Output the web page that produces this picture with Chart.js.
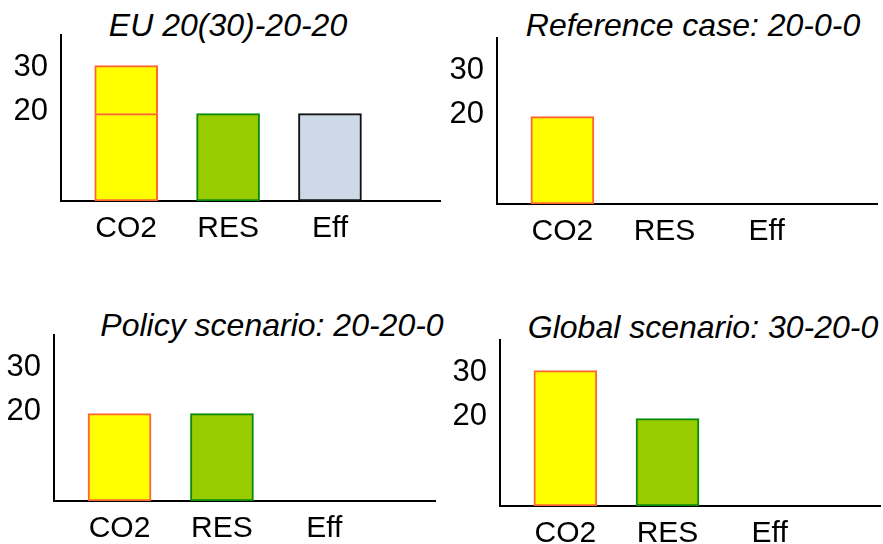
<!DOCTYPE html>
<html>
<head>
<meta charset="utf-8">
<script src="https://cdn.jsdelivr.net/npm/chart.js@4/dist/chart.umd.min.js"></script>
<style>
    html, body { margin: 0; padding: 0; background: #fff; width: 883px; height: 544px; overflow: hidden; position: relative; }
    body { font-family: "Liberation Sans", Arial, sans-serif; }
    canvas { position: absolute; }
    .ttl { position: absolute; font-style: italic; font-size: 32px; white-space: nowrap; transform: translate(-50%, -50%); color: #000; }
</style>
</head>
<body>
<div class="ttl" style="left:228px; top:25px;">EU 20(30)-20-20</div>
<div class="ttl" style="left:693px; top:25px;">Reference case: 20-0-0</div>
<div class="ttl" style="left:272px; top:325px;">Policy scenario: 20-20-0</div>
<div class="ttl" style="left:703px; top:327px;">Global scenario: 30-20-0</div>

<canvas id="euChart" width="430" height="246" style="left:11px; top:3px;"></canvas>
<canvas id="refChart" width="431" height="246" style="left:447px; top:6px;"></canvas>
<canvas id="policyChart" width="432" height="246" style="left:4px; top:303px;"></canvas>
<canvas id="globalChart" width="431" height="246" style="left:450px; top:308px;"></canvas>

<script>
const categories = ['CO2', 'RES', 'Eff'];
const yTicks = [20, 30];

// EU 20(30)-20-20: CO2 has an extra step on top of the 20
const euBase = [20, 20, 20];
const euExtra = [11, 0, 0];
const refValues = [20, 0, 0];
const policyValues = [20, 20, 0];
const globalValues = [31, 20, 0];

const fillColors = ['#ffff00', '#99cc00', '#cdd9e6'];
const edgeColors = ['#ff6633', '#0a8a0a', '#111111'];

const FONT = '"Liberation Sans", Arial, sans-serif';

function toPoints(values) {
    return values.map((v, i) => ({ x: i, y: v }));
}

function barSet(values, skipped) {
    return {
        data: toPoints(values),
        backgroundColor: fillColors,
        borderColor: edgeColors,
        borderWidth: 2,
        borderSkipped: skipped,
        barThickness: 63
    };
}

function drawPanel(id, datasets) {
    const ctx = document.getElementById(id);
    return new Chart(ctx, {
        type: 'bar',
        data: { datasets },
        options: {
            responsive: false,
            animation: false,
            layout: { padding: { top: 32, left: 0, right: 0, bottom: 0 } },
            plugins: {
                legend: { display: false },
                tooltip: { enabled: false },
                title: { display: false }
            },
            scales: {
                x: {
                    type: 'linear',
                    min: -0.64,
                    max: 3.09,
                    offset: false,
                    stacked: true,
                    grid: { display: false, drawTicks: false },
                    border: { display: true, color: '#000', width: 2 },
                    afterBuildTicks: scale => {
                        scale.ticks = categories.map((c, i) => ({ value: i }));
                    },
                    afterFit: scale => { scale.height = 48; },
                    ticks: {
                        color: '#000',
                        font: { size: 30, family: FONT },
                        padding: 10,
                        maxRotation: 0,
                        autoSkip: false,
                        callback: v => categories[v]
                    }
                },
                y: {
                    min: 0,
                    max: 38,
                    stacked: true,
                    grid: { display: false, drawTicks: false },
                    border: { display: true, color: '#000', width: 2 },
                    afterBuildTicks: scale => {
                        scale.ticks = yTicks.map(v => ({ value: v }));
                    },
                    afterFit: scale => { scale.width = 50; },
                    ticks: {
                        color: '#000',
                        font: { size: 31, family: FONT },
                        padding: 13,
                        labelOffset: -2
                    }
                }
            }
        }
    });
}

drawPanel('euChart', [barSet(euBase, false), barSet(euExtra, 'start')]);
drawPanel('refChart', [barSet(refValues, false)]);
drawPanel('policyChart', [barSet(policyValues, false)]);
drawPanel('globalChart', [barSet(globalValues, false)]);
</script>
</body>
</html>
